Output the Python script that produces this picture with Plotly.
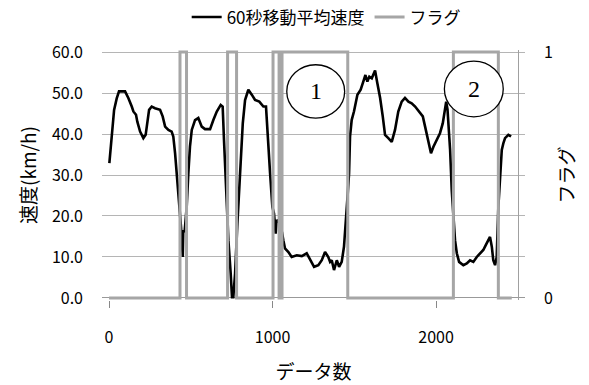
import plotly.graph_objects as go

# Speed trace (60-second moving average)
data_idx = [2, 16, 31, 47, 61, 98, 118, 139, 149, 165, 173, 190, 210, 224, 234, 245, 261, 281, 312, 328,
            343, 363, 383, 393, 404, 414, 428, 440, 451, 454, 462, 475, 485, 495, 506, 526, 546, 567, 587, 618,
            638, 659, 683, 695, 703, 716, 730, 744, 752, 760, 771, 785, 801, 818, 832, 852, 873, 893, 919, 944,
            960, 971, 985, 999, 1009, 1019, 1025, 1040, 1058, 1066, 1076, 1097, 1117, 1148, 1179, 1209, 1234, 1254, 1280, 1301,
            1321, 1341, 1352, 1362, 1376, 1393, 1407, 1423, 1437, 1450, 1460, 1468, 1474, 1484, 1498, 1519, 1539, 1555, 1568, 1580,
            1592, 1607, 1627, 1641, 1658, 1674, 1688, 1708, 1729, 1749, 1769, 1790, 1810, 1831, 1851, 1872, 1898, 1919, 1933, 1953,
            1969, 1984, 2004, 2024, 2041, 2055, 2062, 2070, 2078, 2086, 2096, 2106, 2116, 2127, 2141, 2167, 2188, 2208, 2228, 2249,
            2269, 2289, 2304, 2320, 2330, 2341, 2350, 2361, 2371, 2381, 2391, 2402, 2412, 2422, 2442, 2459]
speed = [32.9, 38.6, 45.9, 48.7, 50.4, 50.4, 48.8, 46.7, 45.5, 44.7, 43.0, 40.6, 39.0, 39.8, 42.6, 45.9, 46.7, 46.3, 45.9, 44.3,
         41.8, 41.0, 40.6, 39.4, 35.3, 30.4, 23.9, 17.4, 10.0, 16.6, 16.0, 22.2, 30.4, 36.9, 41.0, 43.4, 43.9, 41.8, 41.2, 41.2,
         43.4, 45.5, 47.1, 46.7, 38.6, 26.3, 14.1, 6.0, 0.2, 0.2, 6.0, 18.2, 30.4, 42.6, 48.3, 50.8, 49.6, 48.3, 47.9, 46.7,
         46.7, 38.6, 30.4, 22.2, 20.6, 15.7, 19.0, 18.5, 16.0, 14.1, 12.1, 11.2, 10.0, 10.4, 10.2, 10.9, 9.2, 7.6, 8.0, 9.2,
         11.2, 10.0, 8.8, 9.2, 6.8, 9.2, 7.6, 8.8, 12.5, 19.0, 25.5, 30.4, 39.4, 43.4, 45.5, 49.6, 50.8, 52.8, 54.4, 52.8,
         54.0, 53.6, 55.5, 52.4, 48.8, 44.3, 39.8, 39.0, 38.1, 41.0, 45.5, 47.9, 48.8, 47.9, 47.5, 46.7, 45.5, 44.3, 41.8, 38.6,
         35.3, 36.9, 38.6, 40.2, 42.6, 45.9, 47.9, 46.0, 42.0, 36.1, 26.3, 19.0, 14.1, 10.9, 8.8, 8.0, 8.4, 9.2, 8.8, 10.0,
         10.9, 11.7, 12.9, 14.1, 14.9, 12.5, 9.2, 8.0, 10.0, 22.2, 30.4, 36.1, 37.8, 39.0, 39.8, 39.4]

# Flag (step) transitions
flag_idx = [0, 434, 474, 725, 780, 1003, 1040, 1058, 1460, 2106, 2381, 2463]
flag_val = [0, 1, 0, 1, 0, 1, 0, 1, 0, 1, 0, 0]

y_ticks = [0, 10, 20, 30, 40, 50, 60]
x_ticks = [0, 1000, 2000]

FONT = "Noto Sans CJK JP"
GRID = "#b5b5b5"
FLAG = "#a6a6a6"

fig = go.Figure()
fig.add_trace(go.Scatter(x=data_idx, y=speed, mode="lines", name="60秒移動平均速度",
                         line=dict(color="black", width=2.6), yaxis="y"))
fig.add_trace(go.Scatter(x=flag_idx, y=flag_val, mode="lines", name="フラグ",
                         line=dict(color=FLAG, width=3, shape="hv"), yaxis="y2"))

# circled labels
circles = [("1", 1087, 1441, 43.9, 56.9), ("2", 2051, 2411, 44.2, 57.8)]
for label, x0, x1, y0, y1 in circles:
    fig.add_shape(type="circle", xref="x", yref="y", x0=x0, x1=x1, y0=y0, y1=y1,
                  line=dict(color="black", width=1.3), fillcolor="white", layer="above")
    fig.add_annotation(x=(x0 + x1) / 2, y=(y0 + y1) / 2, xref="x", yref="y", text=label,
                       showarrow=False, font=dict(family="Liberation Serif", size=24, color="black"))

fig.update_layout(
    width=589, height=385,
    margin=dict(l=102, r=64, t=50, b=85, autoexpand=False),
    paper_bgcolor="white", plot_bgcolor="white",
    font=dict(family=FONT, size=16, color="black"),
    showlegend=True,
    legend=dict(orientation="h", x=0.53, xanchor="center", y=1.13, yanchor="middle",
                font=dict(size=17), itemwidth=30, tracegroupgap=0),
    xaxis=dict(range=[-43, 2544], tickvals=x_ticks, showgrid=False, zeroline=False, automargin=False,
               ticks="outside", ticklen=7, tickcolor="#888888", showline=False,
               title=dict(text="データ数", standoff=18), ticklabelstandoff=16),
    yaxis=dict(range=[-0.5, 60.5], tickvals=y_ticks, tickformat=".1f", showgrid=True, automargin=False,
               gridcolor=GRID, gridwidth=1, zeroline=True, zerolinecolor="#999999", zerolinewidth=1,
               ticks="", showline=False, ticklabelstandoff=18,
               title=dict(text="速度(km/h)", standoff=10)),
    yaxis2=dict(range=[-0.5 / 60, 1 + 0.5 / 60], tickvals=[0, 1], overlaying="y", side="right",
                anchor="free", position=0.983, showgrid=False, zeroline=False, automargin=False,
                showline=True, linecolor="#a0a0a0", linewidth=1, ticks="",
                ticklabelstandoff=22, title=dict(text="フラグ", standoff=8)),
)

fig.write_html("out.html", config={"displayModeBar": False})

# remove the browser's default page margin so the figure sits at the window's origin
with open("out.html", encoding="utf-8") as f:
    html = f.read()
html = html.replace("<head>", "<head><style>html,body{margin:0;padding:0;overflow:hidden;}</style>", 1)
with open("out.html", "w", encoding="utf-8") as f:
    f.write(html)
